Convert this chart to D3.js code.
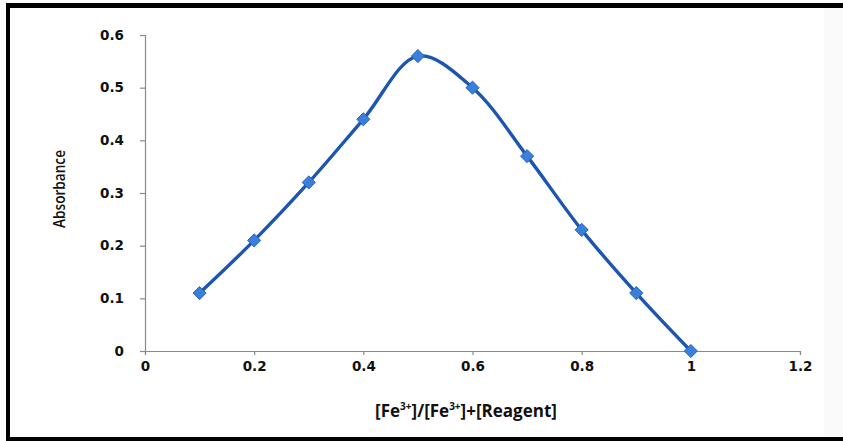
<!DOCTYPE html>
<html>
<head>
<meta charset="utf-8">
<script src="https://cdn.jsdelivr.net/npm/d3@7"></script>
<style>
  body { margin: 0; background: #fff; }
  svg { display: block; }
</style>
</head>
<body>
<div class="canvas"></div>
<script>
// data
const ratios = [0.1, 0.2, 0.3, 0.4, 0.5, 0.6, 0.7, 0.8, 0.9, 1.0];
const absorbance = [0.11, 0.21, 0.32, 0.44, 0.56, 0.5, 0.37, 0.23, 0.11, 0];
const xTicks = [0, 0.2, 0.4, 0.6, 0.8, 1, 1.2];
const yTicks = [0, 0.1, 0.2, 0.3, 0.4, 0.5, 0.6];

const width = 843;
const height = 441;
const margin = { top: 35, right: 43, bottom: 90, left: 145 };
const graphWidth = width - margin.left - margin.right;
const graphHeight = height - margin.top - margin.bottom;

const svg = d3
  .select('.canvas')
  .append('svg')
  .attr('width', width)
  .attr('height', height);

// frame: black top, left and bottom edges like the scanned image
svg.append('rect').attr('x', 824).attr('y', 0).attr('width', 19).attr('height', height).attr('fill', '#fafafa');
svg.append('rect').attr('x', 0).attr('y', 0).attr('width', width).attr('height', 8).attr('fill', '#000');
svg.append('rect').attr('x', 0).attr('y', 0).attr('width', 10).attr('height', height).attr('fill', '#000');
svg.append('rect').attr('x', 0).attr('y', 437).attr('width', width).attr('height', 4).attr('fill', '#000');
svg.append('rect').attr('x', 0).attr('y', 0).attr('width', 6).attr('height', height).attr('fill', '#fff');
svg.append('rect').attr('x', 0).attr('y', 0).attr('width', width).attr('height', 3).attr('fill', '#fff');

const graph = svg
  .append('g')
  .attr('transform', `translate(${margin.left}, ${margin.top})`);

// scales
const x = d3.scaleLinear().domain([0, 1.2]).range([0, graphWidth]);
const y = d3.scaleLinear().domain([0, 0.6]).range([graphHeight, 0]);

// axes
const xAxis = d3
  .axisBottom(x)
  .tickValues(xTicks)
  .tickSizeInner(4)
  .tickSizeOuter(4)
  .tickPadding(6)
  .tickFormat(d => d3.format('')(d));
const yAxis = d3
  .axisLeft(y)
  .tickValues(yTicks)
  .tickSizeInner(5)
  .tickSizeOuter(5)
  .tickPadding(16)
  .tickFormat(d => d3.format('')(d));

const xAxisGroup = graph
  .append('g')
  .attr('transform', `translate(0, ${graphHeight})`)
  .call(xAxis);
const yAxisGroup = graph.append('g').call(yAxis);

[xAxisGroup, yAxisGroup].forEach(g => {
  g.selectAll('path, line').attr('stroke', '#8a8a8a').attr('stroke-width', 1.2);
  g.selectAll('text')
    .attr('fill', '#111')
    .style('font-family', '"DejaVu Sans", Verdana, sans-serif')
    .style('font-weight', 'bold')
    .style('font-size', '13.5px');
});

// smoothed line
const line = d3
  .line()
  .x((d, i) => x(ratios[i]))
  .y(d => y(d))
  .curve(d3.curveCatmullRom.alpha(0.5));

graph
  .append('path')
  .datum(absorbance)
  .attr('fill', 'none')
  .attr('stroke', '#1d56b0')
  .attr('stroke-width', 3.4)
  .attr('d', line);

// diamond markers
const diamond = d3.symbol().type(d3.symbolDiamond2).size(110);
graph
  .selectAll('.marker')
  .data(absorbance)
  .enter()
  .append('path')
  .attr('class', 'marker')
  .attr('d', diamond)
  .attr('transform', (d, i) => `translate(${x(ratios[i])}, ${y(d)})`)
  .attr('fill', '#3a7fd8')
  .attr('stroke', '#2a63bd')
  .attr('stroke-width', 1);

// axis titles
svg
  .append('text')
  .attr('transform', 'translate(65, 189) rotate(-90)')
  .attr('text-anchor', 'middle')
  .attr('textLength', 78)
  .attr('lengthAdjust', 'spacingAndGlyphs')
  .style('font-family', '"Open Sans", sans-serif')
  .style('font-weight', '600')
  .style('font-size', '16px')
  .attr('fill', '#111')
  .text('Absorbance');

const xTitle = svg
  .append('text')
  .attr('x', 466)
  .attr('y', 417)
  .attr('text-anchor', 'middle')
  .style('font-family', '"Open Sans", "Liberation Sans", sans-serif')
  .style('font-weight', 'bold')
  .style('font-size', '17px')
  .attr('fill', '#111');

xTitle.append('tspan').text('[Fe');
xTitle.append('tspan').attr('dy', -7).style('font-size', '10px').text('3+');
xTitle.append('tspan').attr('dy', 7).text(']/[Fe');
xTitle.append('tspan').attr('dy', -7).style('font-size', '10px').text('3+');
xTitle.append('tspan').attr('dy', 7).text(']+[Reagent]');
</script>
</body>
</html>
